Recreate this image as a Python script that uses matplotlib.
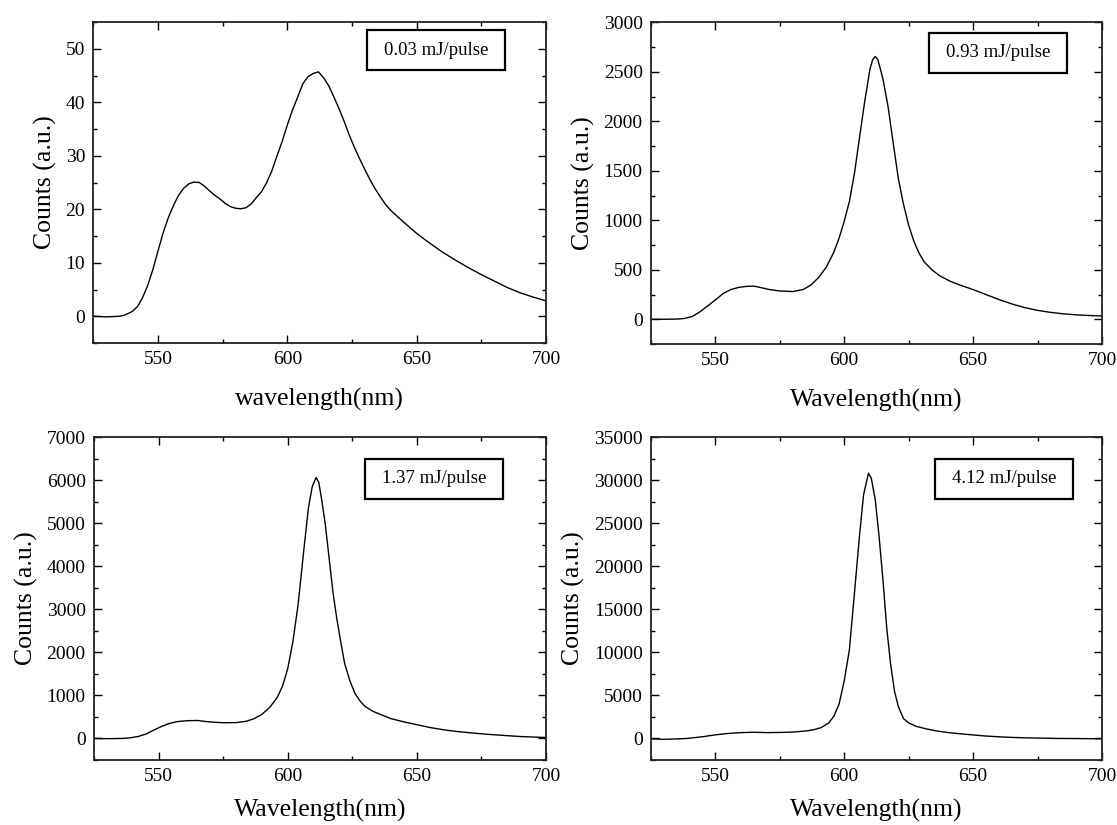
import matplotlib
matplotlib.use('Agg')
import matplotlib.pyplot as plt
import matplotlib.ticker as ticker
from matplotlib.patches import Rectangle

plt.rcParams['font.family'] = ['Liberation Serif', 'DejaVu Serif']

# Spectra (wavelength in nm, counts in a.u.)
wl_003 = [525, 530, 535, 537, 540, 542, 544, 546, 548, 550, 552, 554, 556, 558, 560,
          562, 564, 566, 568, 570, 572, 574, 576, 578, 580, 582, 584, 586, 588, 590,
          592, 594, 596, 598, 600, 602, 604, 606, 608, 610, 612, 614, 616, 618, 620,
          622, 624, 626, 628, 630, 632, 634, 636, 638, 640, 642, 645, 650, 655, 660, 665,
          670, 675, 680, 685, 690, 695, 700]
cnt_003 = [0.0, -0.1, 0.0, 0.2, 0.9, 1.8, 3.5, 5.8, 8.8, 12.3, 15.7, 18.5, 20.8, 22.7, 24.0,
           24.8, 25.1, 25.0, 24.3, 23.4, 22.6, 21.9, 21.1, 20.5, 20.2, 20.1, 20.3, 21.0, 22.2, 23.3,
           25.0, 27.2, 30.0, 32.7, 35.8, 38.6, 41.0, 43.5, 44.8, 45.4, 45.7, 44.6, 43.1, 41.0, 38.8,
           36.4, 33.8, 31.5, 29.4, 27.4, 25.5, 23.8, 22.3, 20.9, 19.8, 18.9, 17.6, 15.5, 13.7, 12.0, 10.5,
           9.1, 7.8, 6.6, 5.4, 4.4, 3.6, 2.9]

wl_093 = [525, 530, 535, 538, 541, 544, 547, 550, 553, 556, 559, 562, 565, 568, 571,
          575, 580, 584, 587, 590, 593, 596, 598, 600, 602, 604, 606, 608, 610, 611,
          612, 613, 614, 615, 617, 619, 621, 623, 625, 627, 629, 631, 634, 637, 641,
          645, 650, 655, 660, 665, 670, 675, 680, 685, 690, 695, 700]
cnt_093 = [0, 0, 2, 8, 28, 75, 135, 195, 260, 300, 322, 332, 335, 318, 300,
           286, 280, 300, 345, 420, 525, 680, 820, 990, 1190, 1480, 1850, 2210, 2530, 2620,
           2655, 2625, 2530, 2430, 2150, 1780, 1420, 1160, 950, 790, 670, 580, 500, 440, 385,
           345, 300, 250, 200, 155, 118, 90, 70, 55, 45, 38, 33]

wl_137 = [525, 530, 536, 539, 542, 545, 548, 551, 554, 557, 561, 565, 568, 571, 575,
          580, 584, 587, 590, 593, 596, 598, 600, 602, 604, 606, 608, 609.5, 611, 612,
          613, 614.5, 616, 617.5, 619, 620.5, 622, 624, 626, 628, 630, 633, 636, 640, 645,
          650, 655, 660, 665, 670, 675, 680, 685, 690, 695, 700]
cnt_137 = [0, -5, 0, 15, 45, 100, 190, 275, 345, 390, 412, 418, 395, 378, 365,
           368, 400, 460, 560, 720, 960, 1220, 1620, 2250, 3100, 4250, 5350, 5850, 6060, 5950,
           5600, 4990, 4200, 3400, 2780, 2250, 1750, 1350, 1050, 870, 740, 630, 555, 460, 385,
           320, 255, 205, 165, 135, 108, 85, 65, 45, 33, 22]

wl_412 = [525, 530, 535, 539, 542, 545, 550, 555, 560, 565, 570, 575, 580, 585, 588,
          591, 594, 596, 598, 600, 602, 604, 606, 607.5, 609.4, 610.5, 612, 613.5, 615, 616.5,
          618, 619.5, 621, 623, 625, 628, 632, 636, 641, 648, 655, 662, 669, 676, 683,
          690, 700]
cnt_412 = [-40, -100, -50, 0, 100, 200, 420, 580, 680, 720, 680, 700, 740, 860, 1000,
           1250, 1800, 2600, 4000, 6700, 10300, 17000, 23800, 28300, 30800, 30200, 27800, 23500, 18500, 12800,
           8600, 5500, 3700, 2300, 1800, 1400, 1100, 860, 660, 460, 280, 160, 80, 40, 0,
           -10, -40]

labels = ['0.03 mJ/pulse', '0.93 mJ/pulse', '1.37 mJ/pulse', '4.12 mJ/pulse']
x_titles = ['wavelength(nm)', 'Wavelength(nm)', 'Wavelength(nm)', 'Wavelength(nm)']

# axes rectangles (figure fraction) and per-panel settings
panels = [
    dict(wl=wl_003, cnt=cnt_003, rect=[0.0837, 0.5842, 0.405, 0.389], ylim=(-5, 55),
         major=10, minor=5, box=(0.605, 0.85), xpad=14),
    dict(wl=wl_093, cnt=cnt_093, rect=[0.5828, 0.5830, 0.4037, 0.390], ylim=(-250, 3000),
         major=500, minor=250, box=(0.617, 0.843), xpad=14),
    dict(wl=wl_137, cnt=cnt_137, rect=[0.0842, 0.0788, 0.4046, 0.3915], ylim=(-500, 7000),
         major=1000, minor=500, box=(0.600, 0.808), xpad=10),
    dict(wl=wl_412, cnt=cnt_412, rect=[0.5828, 0.0788, 0.4037, 0.3915], ylim=(-2500, 35000),
         major=5000, minor=2500, box=(0.630, 0.808), xpad=10),
]

fig = plt.figure(figsize=(11.17, 8.25), dpi=100)

for i, p in enumerate(panels):
    ax = fig.add_axes(p['rect'])
    ax.plot(p['wl'], p['cnt'], color='black', linewidth=1.0)

    ax.set_xlim(525, 700)
    ax.set_ylim(*p['ylim'])
    ax.xaxis.set_major_locator(ticker.MultipleLocator(50))
    ax.xaxis.set_minor_locator(ticker.MultipleLocator(25))
    ax.yaxis.set_major_locator(ticker.MultipleLocator(p['major']))
    ax.yaxis.set_minor_locator(ticker.MultipleLocator(p['minor']))
    ax.tick_params(which='both', direction='in', top=True, right=True,
                   labelsize=14, width=1.0, color='black')
    ax.tick_params(which='major', length=5.5, pad=6)
    ax.tick_params(which='minor', length=3)
    for s in ax.spines.values():
        s.set_linewidth(1.3)
        s.set_color('#222222')

    ax.set_xlabel(x_titles[i], fontsize=18.5, labelpad=p['xpad'])
    ax.set_ylabel('Counts (a.u.)', fontsize=18.5, labelpad=6)

    # label box in the upper right
    bx, by = p['box']
    ax.add_patch(Rectangle((bx, by), 0.305, 0.125, transform=ax.transAxes,
                           fill=False, edgecolor='black', linewidth=1.6, zorder=5))
    ax.text(bx + 0.1525, by + 0.0625, labels[i], transform=ax.transAxes,
            ha='center', va='center', fontsize=13.5, zorder=6)

fig.savefig('out.png', dpi=100)
